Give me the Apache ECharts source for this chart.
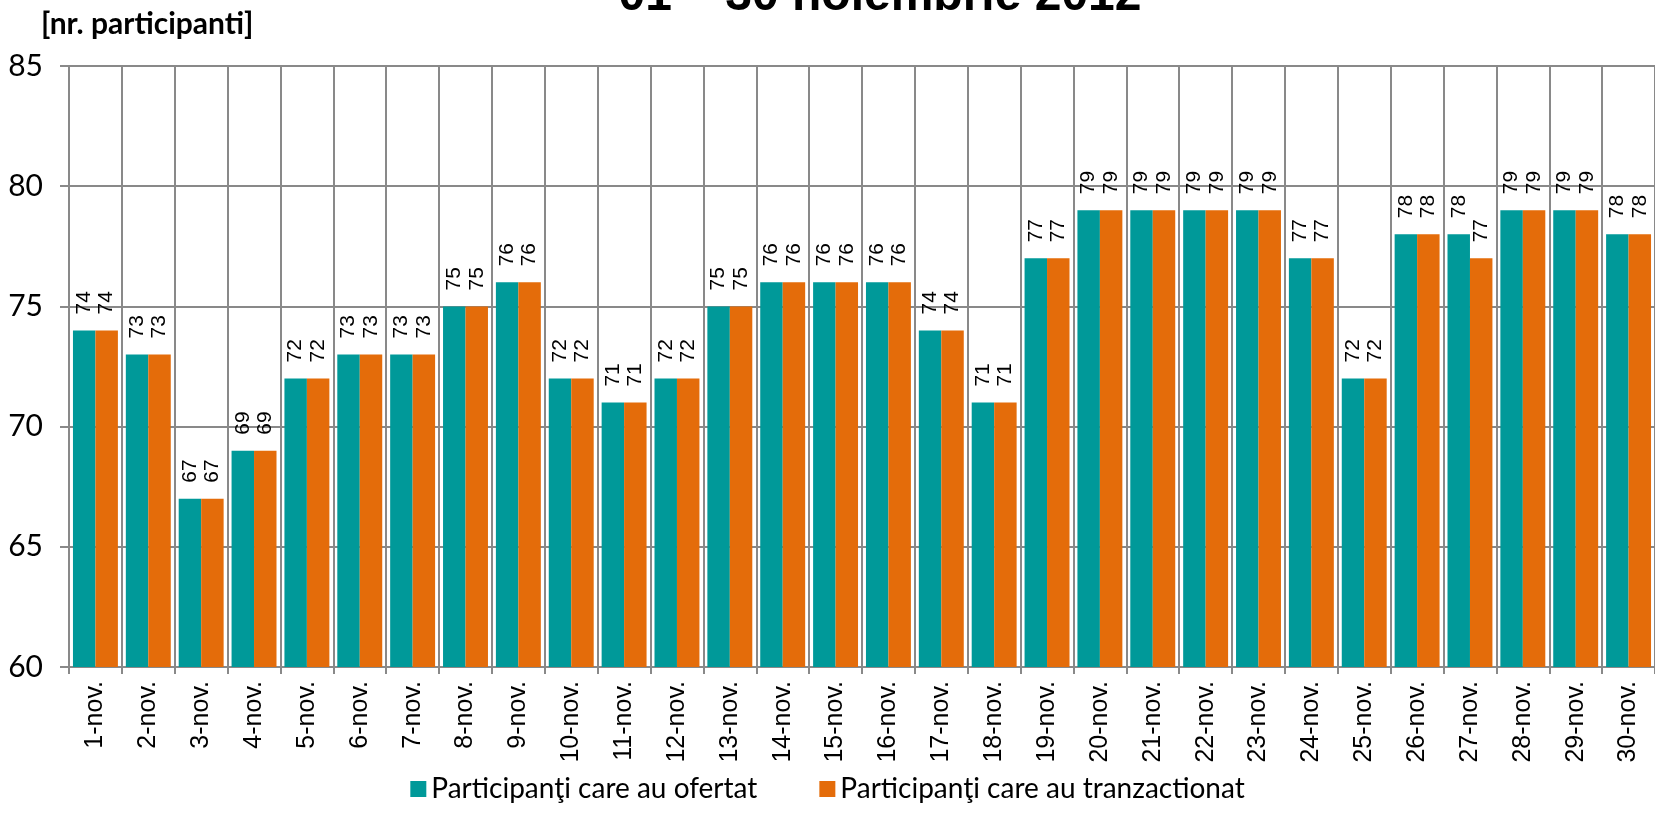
<!DOCTYPE html>
<html><head><meta charset="utf-8">
<script src="https://cdn.jsdelivr.net/npm/echarts@6/dist/echarts.min.js"></script>
<style>html,body{margin:0;padding:0;background:#fff}#c{width:1655px;height:832px}</style>
</head><body><div id="c"></div>
<script>
const categories = ['1-nov.','2-nov.','3-nov.','4-nov.','5-nov.','6-nov.','7-nov.','8-nov.','9-nov.','10-nov.','11-nov.','12-nov.','13-nov.','14-nov.','15-nov.','16-nov.','17-nov.','18-nov.','19-nov.','20-nov.','21-nov.','22-nov.','23-nov.','24-nov.','25-nov.','26-nov.','27-nov.','28-nov.','29-nov.','30-nov.'];
const ofertat =       [74,73,67,69,72,73,73,75,76,72,71,72,75,76,76,76,74,71,77,79,79,79,79,77,72,78,78,79,79,78];
const tranzactionat = [74,73,67,69,72,73,73,75,76,72,71,72,75,76,76,76,74,71,77,79,79,79,79,77,72,78,77,79,79,78];
const seriesNames = ['Participanţi care au ofertat','Participanţi care au tranzactionat'];
const yMin = 60, yMax = 85, yStep = 5;
const titleText = '01 – 30 noiembrie 2012';
const unitText = '[nr. participanti]';

const chart = echarts.init(document.getElementById('c'));
const grey = '#898989';
const labelCfg = {
  show: true, position: 'top', rotate: 90, distance: 16,
  align: 'left', verticalAlign: 'middle',
  fontFamily: 'Liberation Sans', fontSize: 21, color: '#000'
};
chart.setOption({
  animation: false,
  title: [
    {text: titleText, left: 875, top: -32, textAlign: 'center',
     textStyle: {fontFamily: 'Liberation Sans', fontWeight: 'bold', fontSize: 48, color: '#000'}},
    {text: unitText, left: 36, top: 4,
     textStyle: {fontFamily: 'Lato', fontWeight: 'bold', fontSize: 30, color: '#000'}}
  ],
  legend: {
    data: seriesNames, bottom: 24, left: 'center', icon: 'rect',
    itemWidth: 16, itemHeight: 16, itemGap: 62,
    textStyle: {fontFamily: 'Lato', fontSize: 28, color: '#000'}
  },
  grid: {left: 69, right: -9, top: 66, bottom: 165, containLabel: false},
  xAxis: {
    type: 'category', data: categories,
    axisLine: {lineStyle: {color: grey, width: 2}},
    axisTick: {show: true, length: 7, lineStyle: {color: grey, width: 2}},
    splitLine: {show: true, interval: 0, lineStyle: {color: grey, width: 2}},
    axisLabel: {rotate: 90, interval: 0, margin: 14, fontFamily: 'Liberation Sans', fontSize: 25, color: '#000'}
  },
  yAxis: {
    type: 'value', min: yMin, max: yMax, interval: yStep,
    axisLine: {show: true, lineStyle: {color: grey, width: 2}},
    axisTick: {show: true, length: 9, lineStyle: {color: grey, width: 2}},
    splitLine: {show: true, lineStyle: {color: grey, width: 2}},
    axisLabel: {margin: 26, fontFamily: 'Lato', fontSize: 30, color: '#000'}
  },
  series: [
    {name: seriesNames[0], type: 'bar', data: ofertat, barGap: '0%', barCategoryGap: '15%',
     itemStyle: {color: '#009999'}, label: labelCfg},
    {name: seriesNames[1], type: 'bar', data: tranzactionat, barGap: '0%', barCategoryGap: '15%',
     itemStyle: {color: '#E46C0A'}, label: labelCfg}
  ]
});
</script>
</body></html>
